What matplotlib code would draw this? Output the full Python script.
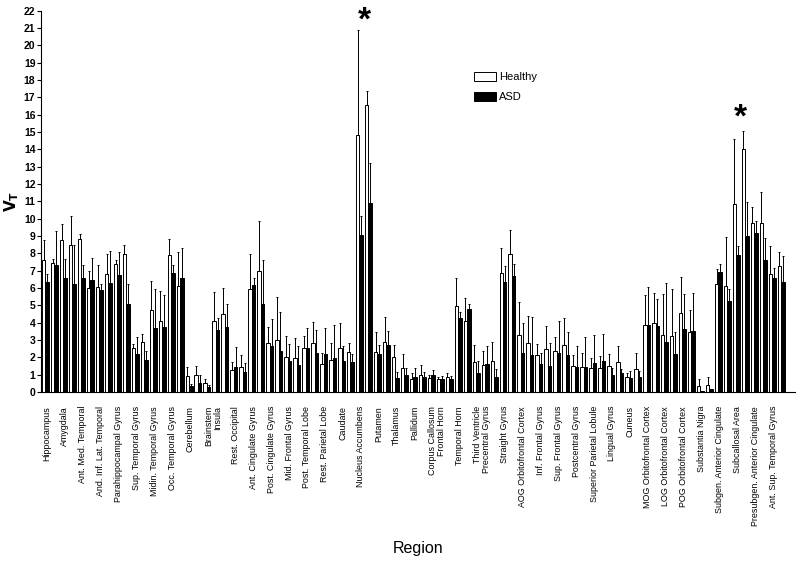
import matplotlib
matplotlib.use("Agg")
import matplotlib.pyplot as plt
import numpy as np

regions = ["Hippocampus", "Amygdala", "Ant. Med. Temporal", "And. Inf. Lat. Temporal",
           "Parahippocampal Gyrus", "Sup. Temporal Gyrus", "Midin. Temporal Gyrus",
           "Occ. Temporal Gyrus", "Cerebellum", "Brainstem", "Insula", "Rest. Occipital",
           "Ant. Cingulate Gyrus", "Post. Cingulate Gyrus", "Mid. Frontal Gyrus",
           "Post. Temporal Lobe", "Rest. Parietal Lobe", "Caudate", "Nucleus Accumbens",
           "Putamen", "Thalamus", "Pallidum", "Corpus Callosum", "Frontal Horn",
           "Temporal Horn", "Third Ventricle", "Precentral Gyrus", "Straight Gyrus",
           "AOG Orbitofrontal Cortex", "Inf. Frontal Gyrus", "Sup. Frontal Gyrus",
           "Postcentral Gyrus", "Superior Parietal Lobule", "Lingual Gyrus", "Cuneus",
           "MOG Orbitofrontal Cortex", "LOG Orbitofrontal Cortex", "POG Orbitofrontal Cortex",
           "Substantia Nigra", "Subgen. Anterior Cingulate", "Subcallosal Area",
           "Presubgen. Anterior Cingulate", "Ant. Sup. Temporal Gyrus"]
# number of bar pairs (hemispheres) per region
n_pairs = [2, 2, 2, 2, 2, 2, 2, 2, 2, 1, 2, 2, 2, 2, 2, 2, 2, 2, 2,
           2, 2, 2, 1, 2, 2, 1, 2, 2, 2, 2, 2, 2, 2, 2, 2, 2, 2, 2, 2, 2, 2, 2, 2]

healthy = [7.6, 7.45, 8.75, 8.5, 8.85, 6.0, 6.05, 6.8, 7.4, 7.95, 2.55, 2.9, 4.75, 4.1,
           7.9, 6.1, 0.92, 0.98, 0.54, 4.1, 4.5, 1.27, 1.42, 5.92, 7.0, 2.8, 3.0, 2.0, 1.98,
           2.52, 2.8, 1.6, 1.85, 2.52, 2.33, 14.8, 16.54, 2.3, 2.87, 2.0, 1.37, 0.75, 0.96,
           0.83, 0.77, 0.85, 4.96, 4.12, 1.75, 1.56, 1.79, 6.85, 7.96, 3.29, 2.85, 2.13,
           2.46, 2.37, 2.71, 1.5, 1.46, 1.37, 1.37, 1.5, 1.71, 0.88, 1.31, 3.87, 3.96, 3.29,
           3.25, 4.58, 3.44, 0.35, 0.4, 6.21, 6.13, 10.85, 14.02, 9.77, 9.73, 6.79, 7.27]
healthy_err = [1.15, 0.2, 0.95, 1.65, 0.25, 1.0, 1.25, 1.15, 0.2, 0.55, 0.2, 0.45, 1.65, 1.7,
               0.95, 2.0, 0.54, 0.54, 0.21, 1.65, 1.5, 0.48, 0.71, 2.04, 2.87, 0.93, 2.46,
               1.23, 1.12, 0.71, 1.26, 0.63, 0.95, 1.44, 0.47, 6.1, 0.84, 1.16, 1.43, 0.7,
               0.8, 0.33, 0.6, 0.15, 0.11, 0.23, 1.64, 1.28, 0.95, 0.81, 1.11, 1.44, 1.39,
               1.92, 1.53, 0.62, 1.35, 0.8, 1.54, 0.63, 0.77, 0.57, 0.71, 0.69, 0.94, 0.2,
               0.92, 1.73, 1.77, 2.34, 2.67, 2.04, 1.29, 0.38, 0.45, 0.87, 2.79, 3.73, 1.06,
               0.92, 1.79, 1.63, 0.79]
asd = [6.35, 7.3, 6.6, 6.25, 6.55, 6.45, 5.9, 6.3, 6.75, 5.05, 2.2, 1.85, 3.7, 3.75, 6.85,
       6.55, 0.33, 0.54, 0.27, 3.6, 3.77, 1.44, 1.15, 6.17, 5.08, 2.65, 2.37, 1.79, 1.54,
       2.52, 2.23, 2.19, 1.98, 1.79, 1.71, 9.06, 10.88, 2.19, 2.7, 0.83, 1.0, 0.85, 0.88,
       0.98, 0.73, 0.75, 4.25, 4.77, 1.12, 1.62, 0.88, 6.33, 6.69, 2.27, 2.12, 1.62, 1.48,
       2.23, 2.12, 1.46, 1.46, 1.65, 1.81, 0.98, 1.12, 0.79, 0.88, 3.87, 3.83, 2.9, 2.19,
       3.62, 3.52, 0.03, 0.15, 6.9, 5.27, 7.9, 9.02, 9.15, 7.62, 6.6, 6.33]
asd_err = [0.45, 2.0, 1.05, 2.25, 0.75, 1.25, 0.3, 1.85, 1.35, 1.2, 1.0, 0.5, 2.25, 1.85, 0.5,
           1.75, 0.12, 0.44, 0.13, 0.65, 1.31, 1.16, 0.5, 0.39, 2.52, 1.55, 2.23, 0.98, 1.11,
           1.15, 1.35, 1.48, 1.89, 0.88, 0.46, 1.11, 2.31, 0.51, 0.84, 0.34, 0.37, 0.52,
           0.25, 0.29, 0.21, 0.19, 0.38, 0.31, 0.68, 1.03, 0.45, 0.94, 0.68, 1.73, 2.19,
           0.61, 1.35, 1.87, 1.32, 1.21, 1.69, 1.64, 1.52, 0.39, 0.19, 0.42, 0.35, 2.21,
           1.52, 3.41, 1.29, 2.01, 2.21, 0.0, 0.05, 0.47, 0.65, 0.54, 1.96, 0.72, 1.28,
           0.53, 1.54]

star_regions = ["Nucleus Accumbens", "Subcallosal Area"]
star_y = [21.7, 16.1]

plt.rcParams['font.family'] = ['Liberation Sans', 'DejaVu Sans']

fig = plt.figure(figsize=(8.0, 5.71), dpi=100)
ax = fig.add_axes([0.05125, 0.3135, 0.9425, 0.668])

x = np.arange(len(healthy))
w = 0.39
ax.bar(x - w / 2, healthy, w, color='white', edgecolor='black', linewidth=0.7,
       label='Healthy', zorder=2)
ax.bar(x + w / 2, asd, w, color='black', edgecolor='black', linewidth=0.7,
       label='ASD', zorder=2)
zeros = np.zeros(len(x))
ax.errorbar(x - w / 2, healthy, yerr=[zeros, healthy_err], fmt='none', ecolor='black',
            elinewidth=0.7, capsize=1.0, capthick=0.7, zorder=3)
ax.errorbar(x + w / 2, asd, yerr=[zeros, asd_err], fmt='none', ecolor='black',
            elinewidth=0.7, capsize=1.0, capthick=0.7, zorder=3)

starts = np.concatenate([[0], np.cumsum(n_pairs)[:-1]])
ax.set_xticks(starts + 0.15)
ax.set_xticklabels(regions, rotation=90, fontsize=6.4)
ax.tick_params(axis='x', length=0, pad=10)

ax.set_ylim(0, 22)
ax.set_xlim(-0.5, len(x) + 0.55)
ax.set_yticks(np.arange(0, 23, 1))
ax.tick_params(axis='y', length=3, width=0.8, labelsize=7.5, pad=1)
for t in ax.get_yticklabels():
    t.set_fontweight('bold')

for s in ['top', 'right']:
    ax.spines[s].set_visible(False)
for s in ['left', 'bottom']:
    ax.spines[s].set_linewidth(0.8)

ax.set_ylabel(r'$\mathbf{V_T}$', fontsize=11, labelpad=2)
ax.set_xlabel('Region', fontsize=11.5, labelpad=11)

for name, yc in zip(star_regions, star_y):
    i = regions.index(name)
    xc = starts[i] + 0.5 * (n_pairs[i] - 1)
    ax.text(xc, yc - 1.22, '*', ha='center', va='bottom', fontsize=24, fontweight='bold',
            clip_on=False)

leg = ax.legend(loc='upper left', bbox_to_anchor=(0.561, 0.865), frameon=False, fontsize=8,
                handlelength=2.0, handleheight=0.8, handletextpad=0.25, labelspacing=0.9)

fig.savefig('out.png', dpi=100)
